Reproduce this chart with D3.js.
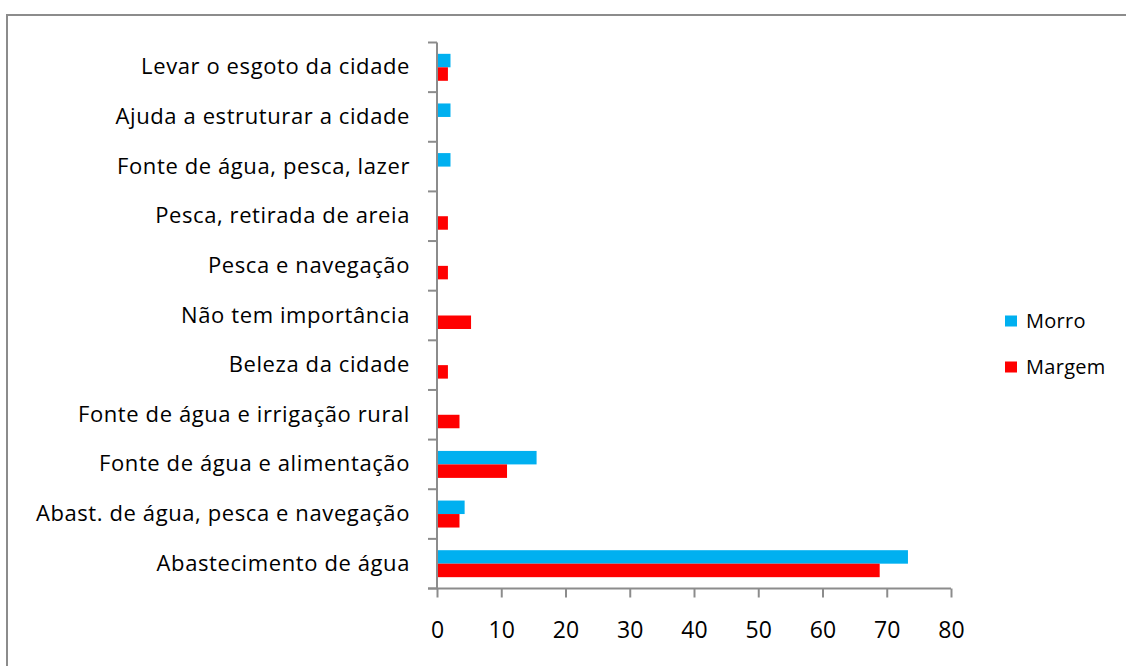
<!DOCTYPE html>
<html>
<head>
<meta charset="utf-8">
<script src="https://cdn.jsdelivr.net/npm/d3@7"></script>
<style>
  body { margin: 0; background: #fff; }
  svg { display: block; }
</style>
</head>
<body>
<svg id="chart"></svg>
<script>
// categories top to bottom
const categories = [
  "Levar o esgoto da cidade",
  "Ajuda a estruturar a cidade",
  "Fonte de água, pesca, lazer",
  "Pesca, retirada de areia",
  "Pesca e navegação",
  "Não tem importância",
  "Beleza da cidade",
  "Fonte de água e irrigação rural",
  "Fonte de água e alimentação",
  "Abast. de água, pesca e navegação",
  "Abastecimento de água"
];
const morro  = [2.1, 2.1, 2.1, 0, 0, 0, 0, 0, 15.5, 4.3, 73.3];
const margem = [1.7, 0, 0, 1.7, 1.7, 5.3, 1.7, 3.5, 10.9, 3.5, 68.9];
const seriesNames = ["Morro", "Margem"];
const seriesColors = ["#00b0f0", "#ff0000"];
const xTicks = [0, 10, 20, 30, 40, 50, 60, 70, 80];

const W = 1126, H = 666;
const font = "'Open Sans', sans-serif";

const svg = d3.select("#chart").attr("width", W).attr("height", H);

// outer frame
svg.append("rect")
  .attr("x", 7).attr("y", 15)
  .attr("width", W + 20).attr("height", H + 20)
  .attr("fill", "#fff")
  .attr("stroke", "#8c8c8c")
  .attr("stroke-width", 2);

const plot = { left: 437, right: 951, top: 42.5, bottom: 588.5 };

const x = d3.scaleLinear().domain([0, 80]).range([plot.left, plot.right]);
const y = d3.scaleBand().domain(categories).range([plot.top, plot.bottom]).paddingInner(0).paddingOuter(0);
const inner = d3.scaleBand().domain(seriesNames).range([0, y.bandwidth()]).paddingInner(0).paddingOuter(0.84);

const rows = categories.map((c, i) => ({ cat: c, vals: [morro[i], margem[i]] }));

const g = svg.append("g");
rows.forEach(r => {
  r.vals.forEach((v, j) => {
    if (!v) return;
    g.append("rect")
      .attr("x", x(0))
      .attr("y", y(r.cat) + inner(seriesNames[j]))
      .attr("width", x(v) - x(0))
      .attr("height", inner.bandwidth())
      .attr("fill", seriesColors[j]);
  });
});

// x axis
const xAxis = svg.append("g")
  .attr("transform", `translate(0,${plot.bottom})`)
  .call(d3.axisBottom(x).tickValues(xTicks).tickSize(9).tickPadding(24).tickSizeOuter(0));
xAxis.select(".domain").attr("stroke", "#8c8c8c").attr("stroke-width", 2)
  .attr("d", `M${plot.left - 9},0H${plot.right}`);
xAxis.selectAll(".tick line").attr("stroke", "#8c8c8c").attr("stroke-width", 2);
xAxis.selectAll(".tick text")
  .attr("fill", "#000").style("font-family", font).style("font-size", "23px");

// y axis
const yAxis = svg.append("g")
  .attr("transform", `translate(${plot.left},0)`)
  .call(d3.axisLeft(y).tickSize(0).tickPadding(27));
yAxis.select(".domain").attr("stroke", "#8c8c8c").attr("stroke-width", 2)
  .attr("d", `M0,${plot.top}V${plot.bottom}`);
yAxis.selectAll(".tick text")
  .attr("fill", "#000").style("font-family", font).style("font-size", "22px")
  .style("letter-spacing", "0.6px");
// category separator ticks
const sep = d3.range(categories.length + 1).map(i => plot.top + i * y.bandwidth());
yAxis.selectAll(".sep").data(sep).enter().append("line")
  .attr("class", "sep")
  .attr("x1", -9).attr("x2", 0)
  .attr("y1", d => d).attr("y2", d => d)
  .attr("stroke", "#8c8c8c").attr("stroke-width", 2);

// legend
const legend = svg.append("g").attr("transform", "translate(1005,321)");
seriesNames.forEach((n, i) => {
  const lg = legend.append("g").attr("transform", `translate(0,${i * 46})`);
  lg.append("rect").attr("x", 0).attr("y", -5.5).attr("width", 12).attr("height", 11).attr("fill", seriesColors[i]);
  lg.append("text").attr("x", 21).attr("y", 0).attr("dy", "0.35em")
    .style("font-family", font).style("font-size", "20px").style("letter-spacing", "0.3px")
    .attr("fill", "#000").text(n);
});
</script>
</body>
</html>
